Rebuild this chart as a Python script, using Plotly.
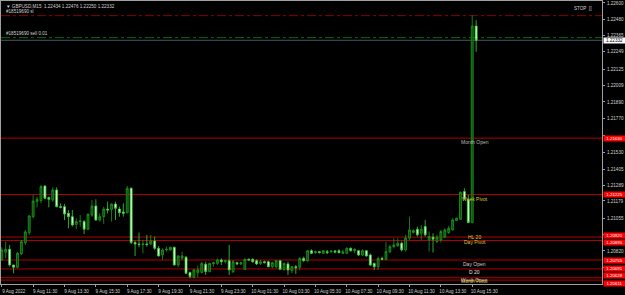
import plotly.graph_objects as go

# ---------------- data ----------------
opens = [1.20756,1.20811,1.20832,1.20720,1.20703,1.20799,1.20880,1.20952,1.21066,1.21174,
         1.21181,1.21286,1.21203,1.21186,1.21258,1.21138,1.21138,1.21090,1.21066,1.21011,
         1.21031,1.21031,1.20976,1.21078,1.21143,1.21042,1.21066,1.21121,1.21119,1.21157,
         1.21121,1.21100,1.21095,1.21270,1.20880,1.20870,1.20866,1.20870,1.20870,1.20892,
         1.20839,1.20792,1.20827,1.20827,1.20846,1.20720,1.20768,1.20775,1.20665,1.20631,
         1.20665,1.20666,1.20724,1.20672,1.20729,1.20731,1.20755,1.20743,1.20750,1.20672,
         1.20736,1.20727,1.20688,1.20760,1.20760,1.20750,1.20731,1.20743,1.20743,1.20707,
         1.20707,1.20750,1.20688,1.20727,1.20679,1.20707,1.20703,1.20767,1.20750,1.20822,
         1.20808,1.20815,1.20803,1.20815,1.20813,1.20820,1.20822,1.20803,1.20803,1.20839,
         1.20822,1.20822,1.20791,1.20822,1.20791,1.20731,1.20707,1.20767,1.20760,1.20815,
         1.20851,1.20856,1.20876,1.20828,1.20912,1.20952,1.20976,1.20947,1.20995,1.20900,
         1.20919,1.20888,1.20900,1.20919,1.20952,1.20971,1.21038,1.21048,1.21246,1.21187,
         1.21024,1.22434]
highs = [1.20846,1.20887,1.20863,1.20720,1.20815,1.20899,1.20971,1.21078,1.21222,1.21210,
         1.21293,1.21293,1.21210,1.21277,1.21277,1.21162,1.21157,1.21114,1.21114,1.21054,
         1.21078,1.21042,1.21090,1.21186,1.21191,1.21090,1.21138,1.21174,1.21162,1.21174,
         1.21138,1.21162,1.21286,1.21277,1.20894,1.20952,1.20899,1.20935,1.20935,1.20923,
         1.20856,1.20839,1.20851,1.20851,1.20851,1.20789,1.20815,1.20784,1.20672,1.20691,
         1.20715,1.20743,1.20743,1.20736,1.20743,1.20767,1.20767,1.20755,1.20863,1.20755,
         1.20743,1.20743,1.20767,1.20767,1.20767,1.20760,1.20755,1.20750,1.20750,1.20743,
         1.20755,1.20755,1.20736,1.20743,1.20712,1.20719,1.20774,1.20779,1.20827,1.20832,
         1.20822,1.20820,1.20827,1.20827,1.20822,1.20827,1.20832,1.20827,1.20846,1.20846,
         1.20839,1.20827,1.20832,1.20827,1.20803,1.20736,1.20779,1.20779,1.20887,1.20863,
         1.20911,1.20911,1.20888,1.20936,1.21067,1.20976,1.20995,1.21007,1.21043,1.20960,
         1.20947,1.20936,1.20971,1.20983,1.21000,1.21055,1.21060,1.21246,1.21270,1.21222,
         1.22512,1.22476]
lows = [1.20751,1.20768,1.20708,1.20660,1.20696,1.20792,1.20863,1.20935,1.21054,1.21133,
        1.21162,1.21191,1.21133,1.21174,1.21133,1.21126,1.21042,1.20983,1.20995,1.20976,
        1.20995,1.20942,1.20971,1.21066,1.21038,1.21031,1.21014,1.21090,1.21031,1.21042,
        1.21066,1.21066,1.21090,1.20870,1.20784,1.20846,1.20803,1.20851,1.20863,1.20827,
        1.20780,1.20756,1.20815,1.20823,1.20715,1.20703,1.20756,1.20655,1.20624,1.20624,
        1.20631,1.20660,1.20648,1.20666,1.20707,1.20719,1.20719,1.20731,1.20648,1.20660,
        1.20719,1.20719,1.20684,1.20750,1.20736,1.20719,1.20719,1.20731,1.20703,1.20695,
        1.20695,1.20684,1.20679,1.20648,1.20660,1.20655,1.20684,1.20743,1.20743,1.20798,
        1.20798,1.20803,1.20798,1.20798,1.20808,1.20803,1.20803,1.20798,1.20798,1.20815,
        1.20803,1.20784,1.20784,1.20779,1.20712,1.20684,1.20684,1.20755,1.20755,1.20803,
        1.20839,1.20851,1.20816,1.20816,1.20900,1.20947,1.20924,1.20900,1.20924,1.20816,
        1.20809,1.20876,1.20881,1.20912,1.20943,1.20967,1.21038,1.21043,1.21187,1.21019,
        1.21019,1.22250]
closes = [1.20827,1.20832,1.20720,1.20703,1.20803,1.20887,1.20957,1.21071,1.21179,1.21191,
          1.21282,1.21198,1.21191,1.21258,1.21138,1.21133,1.21085,1.21066,1.21007,1.21031,
          1.21035,1.20976,1.21083,1.21143,1.21042,1.21066,1.21121,1.21114,1.21157,1.21126,
          1.21095,1.21090,1.21270,1.20880,1.20870,1.20866,1.20870,1.20866,1.20892,1.20839,
          1.20784,1.20827,1.20832,1.20846,1.20720,1.20784,1.20784,1.20660,1.20636,1.20684,
          1.20684,1.20731,1.20672,1.20731,1.20736,1.20755,1.20743,1.20750,1.20684,1.20743,
          1.20727,1.20736,1.20760,1.20755,1.20743,1.20727,1.20743,1.20736,1.20707,1.20736,
          1.20750,1.20688,1.20731,1.20684,1.20707,1.20700,1.20767,1.20750,1.20822,1.20803,
          1.20815,1.20808,1.20822,1.20808,1.20820,1.20813,1.20808,1.20815,1.20839,1.20822,
          1.20832,1.20791,1.20822,1.20784,1.20719,1.20707,1.20767,1.20760,1.20815,1.20851,
          1.20863,1.20875,1.20828,1.20912,1.20971,1.20967,1.20936,1.20976,1.20936,1.20924,
          1.20905,1.20919,1.20960,1.20971,1.20983,1.21043,1.21055,1.21241,1.21194,1.21024,
          1.22434,1.22332]

tick_text = ["9 Aug 2022", "9 Aug 11:30", "9 Aug 13:30", "9 Aug 15:30", "9 Aug 17:30",
             "9 Aug 19:30", "9 Aug 21:30", "9 Aug 23:30", "10 Aug 01:30", "10 Aug 03:30",
             "10 Aug 05:30", "10 Aug 07:30", "10 Aug 09:30", "10 Aug 11:30", "10 Aug 13:30",
             "10 Aug 15:30"]
tick_bars = [0, 8, 16, 24, 32, 40, 48, 56, 64, 72, 80, 88, 96, 104, 112, 120]

# price labels on the right scale (those hidden behind level boxes are left blank)
price_ticks = [1.22600, 1.22480, 1.22365, 1.22249, 1.22125, 1.22009, 1.21890, 1.21770,
               1.21650, 1.21530, 1.21405, 1.21289, 1.21179, 1.21055, 1.20940, 1.20820,
               1.20700]
hidden_ticks = [1.21650, 1.20940, 1.20700]

level_prices = [1.21630, 1.21225, 1.20920, 1.20895, 1.20755, 1.20691, 1.20628, 1.20611]
level_labels = ["1.21630", "1.21225", "1.20920", "1.20895", "1.20755", "1.20691", "1.20628", "1.20611"]
level_box_shift = [0, 0, 2, -2, 0, 0, 2, -3]

sl_price = 1.22509
sell_price = 1.22351
bid_price = 1.22332

chart_labels = [("Month Open", 1.21603, "#b8b8b8"),
                ("Week Pivot", 1.21193, "#d0c83c"),
                ("HL 20", 1.20922, "#d0c83c"),
                ("Day Pivot", 1.20884, "#d0c83c"),
                ("Day Open", 1.20727, "#c8c8c8"),
                ("D 20", 1.20669, "#e0e0e0"),
                ("Week Open", 1.20615, "#c8c8c8"),
                ("Month Pivot", 1.20606, "#d0c83c")]

# ---------------- figure ----------------
bars = list(range(len(opens)))
fig = go.Figure()

for p in level_prices:
    fig.add_hline(y=p, line=dict(color="#b00000", width=1), layer="below")
fig.add_hline(y=sl_price, line=dict(color="#8b0000", width=1, dash="dashdot"), layer="below")
fig.add_hline(y=sell_price, line=dict(color="#0a6a0a", width=1, dash="dashdot"), layer="below")
fig.add_hline(y=bid_price, line=dict(color="#4a5560", width=1), layer="below")

fig.add_trace(go.Candlestick(
    x=bars, open=opens, high=highs, low=lows, close=closes,
    increasing=dict(line=dict(color="#1c9a1c", width=0.8), fillcolor="#0b4f0b"),
    decreasing=dict(line=dict(color="#3ad23a", width=0.8), fillcolor="#e6ffe6"),
    whiskerwidth=0, hoverinfo="skip", showlegend=False))

tiny = dict(family="Liberation Sans", size=4.6, color="#d0d0d0")

anns = []
for txt, p, col in chart_labels:
    anns.append(dict(x=120.6, y=p, xref="x", yref="y", text=txt, showarrow=False,
                     xanchor="center", yanchor="middle",
                     font=dict(family="Liberation Sans", size=5, color=col)))
for p, t, s in zip(level_prices, level_labels, level_box_shift):
    anns.append(dict(x=1.0, y=p, xref="paper", yref="y", text=t, showarrow=False,
                     xanchor="left", yanchor="middle", xshift=1, yshift=s, bgcolor="#ff0000",
                     width=21, height=4.5, borderpad=0, align="center",
                     font=dict(family="Liberation Sans", size=4.4, color="#ffffff")))
anns.append(dict(x=1.0, y=bid_price, xref="paper", yref="y", text="1.22332", showarrow=False,
                 xanchor="left", yanchor="middle", xshift=1, bgcolor="#ffffff",
                 width=21, height=5, borderpad=0, align="center",
                 font=dict(family="Liberation Sans", size=4.6, color="#000000")))
anns.append(dict(x=0.005, y=0.995, xref="paper", yref="paper",
                 text="▼ GBPUSD,M15  1.22434 1.22476 1.22250 1.22332", showarrow=False,
                 xanchor="left", yanchor="top", font=tiny))
anns.append(dict(x=0.005, y=sl_price, xref="paper", yref="y", text="#18519690 sl",
                 showarrow=False, xanchor="left", yanchor="bottom", yshift=0, font=tiny))
anns.append(dict(x=0.005, y=sell_price, xref="paper", yref="y", text="#18519690 sell 0.01",
                 showarrow=False, xanchor="left", yanchor="bottom", yshift=0, font=tiny))
anns.append(dict(x=0.985, y=0.99, xref="paper", yref="paper", text="STOP  []",
                 showarrow=False, xanchor="right", yanchor="top", font=tiny))

fig.update_layout(
    width=625, height=295, autosize=False,
    margin=dict(l=1, r=23, t=1, b=11),
    paper_bgcolor="#000000", plot_bgcolor="#000000",
    boxgap=0.3,
    annotations=anns,
    xaxis=dict(range=[-0.2, 153.1], tickmode="array", tickvals=tick_bars, ticktext=tick_text,
               showgrid=False, zeroline=False, rangeslider=dict(visible=False),
               showline=True, linecolor="#a0a0a0", linewidth=1, mirror=True,
               ticks="outside", ticklen=2, tickcolor="#a0a0a0",
               tickfont=tiny, ticklabelshift=12, ticklabelstandoff=0, automargin=False),
    yaxis=dict(range=[1.20583, 1.22614], side="right", tickmode="array",
               tickvals=price_ticks,
               ticktext=["" if v in hidden_ticks else f"{v:.5f}" for v in price_ticks],
               showgrid=False, zeroline=False,
               showline=True, linecolor="#a0a0a0", linewidth=1, mirror=True,
               ticks="outside", ticklen=2, tickcolor="#a0a0a0",
               tickfont=tiny, ticklabelstandoff=1, automargin=False),
)

fig.write_html("out.html", config={"displayModeBar": False})
